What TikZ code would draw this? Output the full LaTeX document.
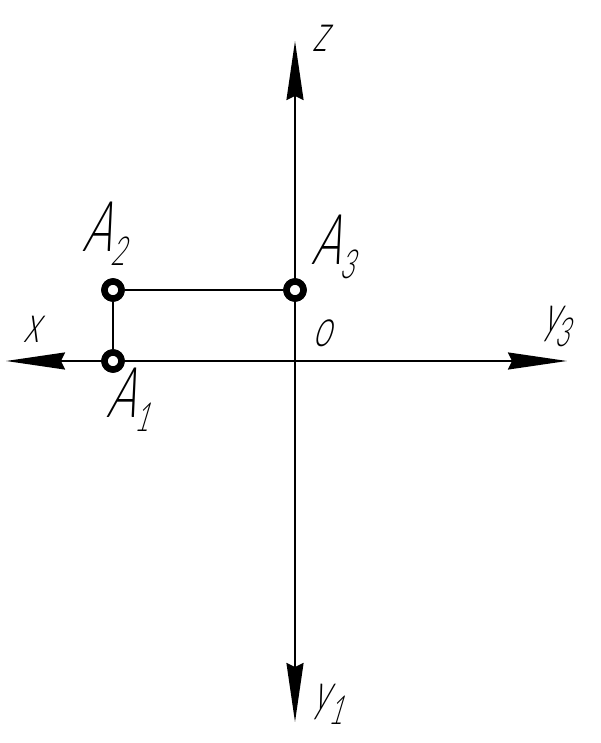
\documentclass[tikz,border=0pt]{standalone}
\usepackage{fontspec}
\usetikzlibrary{arrows.meta, positioning}
\newfontfamily\gostfont[UprightFont=* Light,FakeSlant=0.3,FakeStretch=0.62]{Lato}
\newcommand{\subidx}[1]{\raisebox{-14pt}{\fontsize{40}{40}\selectfont #1}}

\begin{document}
\begin{tikzpicture}[x=1pt, y=1pt,
						lbl/.style = {inner sep=0pt, anchor=base west, font=\gostfont\fontsize{53}{53}\selectfont},
						lblcap/.style = {lbl, font=\gostfont\fontsize{56}{56}\selectfont},
						pnt/.style = {circle, draw, fill=white, line width=6.5pt, inner sep=0pt, minimum size=17pt},
						axis/.style = {line width=2pt, -{Stealth[length=59pt, width=17pt, inset=4pt]}},
						line/.style = {line width=2pt}
						]
						\useasboundingbox (0,0) rectangle (600,743);

						% --- Ejes ---
						\coordinate (orig) at (295,382);
						\coordinate (xend) at (6,382);
						\coordinate (yend3) at (567,382);
						\coordinate (zend) at (295,702);
						\coordinate (yend1) at (295,21);

						% --- Puntos ---
						\node[pnt] (a1) at (113,382) {};
						\node[pnt] (a2) at (113,453) {};
						\node[pnt] (a3) at (295,453) {};

						% --- Conexiones ---
						\draw[axis] (orig) -- (zend);
						\draw[axis] (orig) -- (yend1);
						\draw[axis] (orig) -- (xend);
						\draw[axis] (orig) -- (yend3);
						\draw[line] (a2) -- (a1);
						\draw[line] (a2) -- (a3);
						\node[pnt] at (a1) {};
						\node[pnt] at (a2) {};
						\node[pnt] at (a3) {};

						% --- Etiquetas ---
						\node[lbl] (lblz) at (312,691) {z};
						\node[lbl] (lblx) at (23,400) {x};
						\node[lbl] (lblo) at (312,396) {o};
						\node[lbl] (lbly3) at (542,410) {y\kern-4pt\subidx{3}};
						\node[lbl] (lbly1) at (312,32) {y\subidx{1}};
						\node[lblcap,font=\gostfont\fontsize{70}{70}\selectfont] (lbla1) at (106,325) {A\subidx{1}};
						\node[lblcap,font=\gostfont\fontsize{70}{70}\selectfont] (lbla2) at (82,491) {A\subidx{2}};
						\node[lblcap,font=\gostfont\fontsize{70}{70}\selectfont] (lbla3) at (311,478) {A\subidx{3}};
					\end{tikzpicture}
\end{document}
